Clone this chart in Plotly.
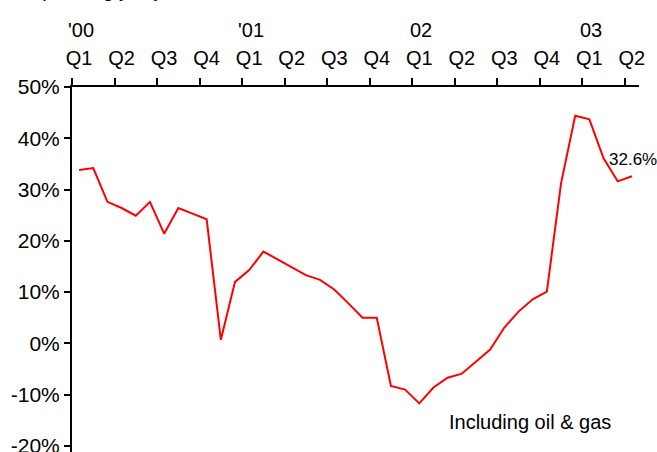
import plotly.graph_objects as go

# ---- data ----
months = [f"{y}-{m:02d}" for y in (2000, 2001, 2002, 2003) for m in range(1, 13)][:40]
growth = [33.8, 34.2, 27.6, 26.4, 24.9, 27.6, 21.4, 26.4, 25.3, 24.2,
          0.7, 12.0, 14.3, 17.9, 16.4, 14.8, 13.3, 12.4, 10.5, 7.8,
          5.0, 5.0, -8.3, -9.0, -11.7, -8.6, -6.7, -5.9, -3.6, -1.2,
          3.1, 6.2, 8.6, 10.1, 31.2, 44.4, 43.7, 36.1, 31.6, 32.6]
quarter_labels = ["Q1", "Q2", "Q3", "Q4"] * 3 + ["Q1", "Q2"]
year_labels = ["'00", "'01", "02", "03"]
y_ticks = [-20, -10, 0, 10, 20, 30, 40, 50]
y_tick_text = [f"{v}%" for v in y_ticks]
last_label = "32.6%"
series_label = "Including oil & gas"
title_text = "Spending y-o-y"

# month positions on a numeric month axis (centre of each month)
pos = [i + 0.5 for i in range(len(months))]
quarter_starts = list(range(0, len(months), 3))
quarter_mid = [q + 0.5 for q in quarter_starts]
year_pos = [q + 0.5 for q in range(0, len(months), 12)]

FONT = "Arial, Liberation Sans, sans-serif"

fig = go.Figure()
fig.add_trace(go.Scatter(x=pos, y=growth, mode="lines",
                         line=dict(color="#ff0000", width=2),
                         text=months, hoverinfo="text+y", showlegend=False))
fig.add_trace(go.Scatter(x=pos, y=growth, mode="lines", xaxis="x2",
                         line=dict(color="rgba(0,0,0,0)", width=0),
                         hoverinfo="skip", showlegend=False))

annotations = [
    dict(x=pos[-1], y=growth[-1], xref="x", yref="y", text=last_label,
         showarrow=False, yshift=17, xshift=1,
         font=dict(family=FONT, size=17, color="black")),
    dict(x=32.3, y=-15.4, xref="x", yref="y", text=series_label,
         showarrow=False, font=dict(family=FONT, size=20, color="black")),
    dict(x=-0.079, y=1.2658, xref="paper", yref="paper", text=title_text,
         showarrow=False, xanchor="left", yanchor="middle",
         font=dict(family=FONT, size=20, color="black")),
]
for xp, lab in zip(year_pos, year_labels):
    annotations.append(dict(x=xp, y=1.1575, xref="x", yref="paper", text=lab,
                            showarrow=False, yanchor="middle", xshift=2,
                            font=dict(family=FONT, size=20, color="black")))

fig.update_layout(
    width=657, height=452,
    margin=dict(l=72, r=18, t=87, b=0, autoexpand=False),
    paper_bgcolor="white", plot_bgcolor="white",
    font=dict(family=FONT, size=20, color="black"),
    xaxis=dict(range=[0, 40], side="top", anchor="y", automargin=False,
               showline=True, linecolor="black", linewidth=2,
               ticks="outside", ticklen=7, tickwidth=1.5, tickcolor="black",
               tickvals=quarter_starts, showticklabels=False,
               showgrid=False, zeroline=False, fixedrange=True),
    xaxis2=dict(range=[0, 40], side="top", anchor="y", overlaying="x",
                automargin=False,
                showline=False, ticks="", tickvals=quarter_mid,
                ticktext=quarter_labels, ticklabelstandoff=17,
                tickfont=dict(family=FONT, size=20, color="black"),
                showgrid=False, zeroline=False, fixedrange=True),
    yaxis=dict(range=[-21.18, 50], tickvals=y_ticks, ticktext=y_tick_text,
               automargin=False,
               showline=True, linecolor="black", linewidth=2,
               ticks="outside", ticklen=6, tickwidth=1.5, tickcolor="black",
               ticklabeloverflow="allow",
               tickfont=dict(family=FONT, size=21, color="black"),
               showgrid=False, zeroline=False, fixedrange=True),
    annotations=annotations,
)

fig.write_html("out.html", config={"displayModeBar": False},
               post_script="document.body.style.margin='0';")
